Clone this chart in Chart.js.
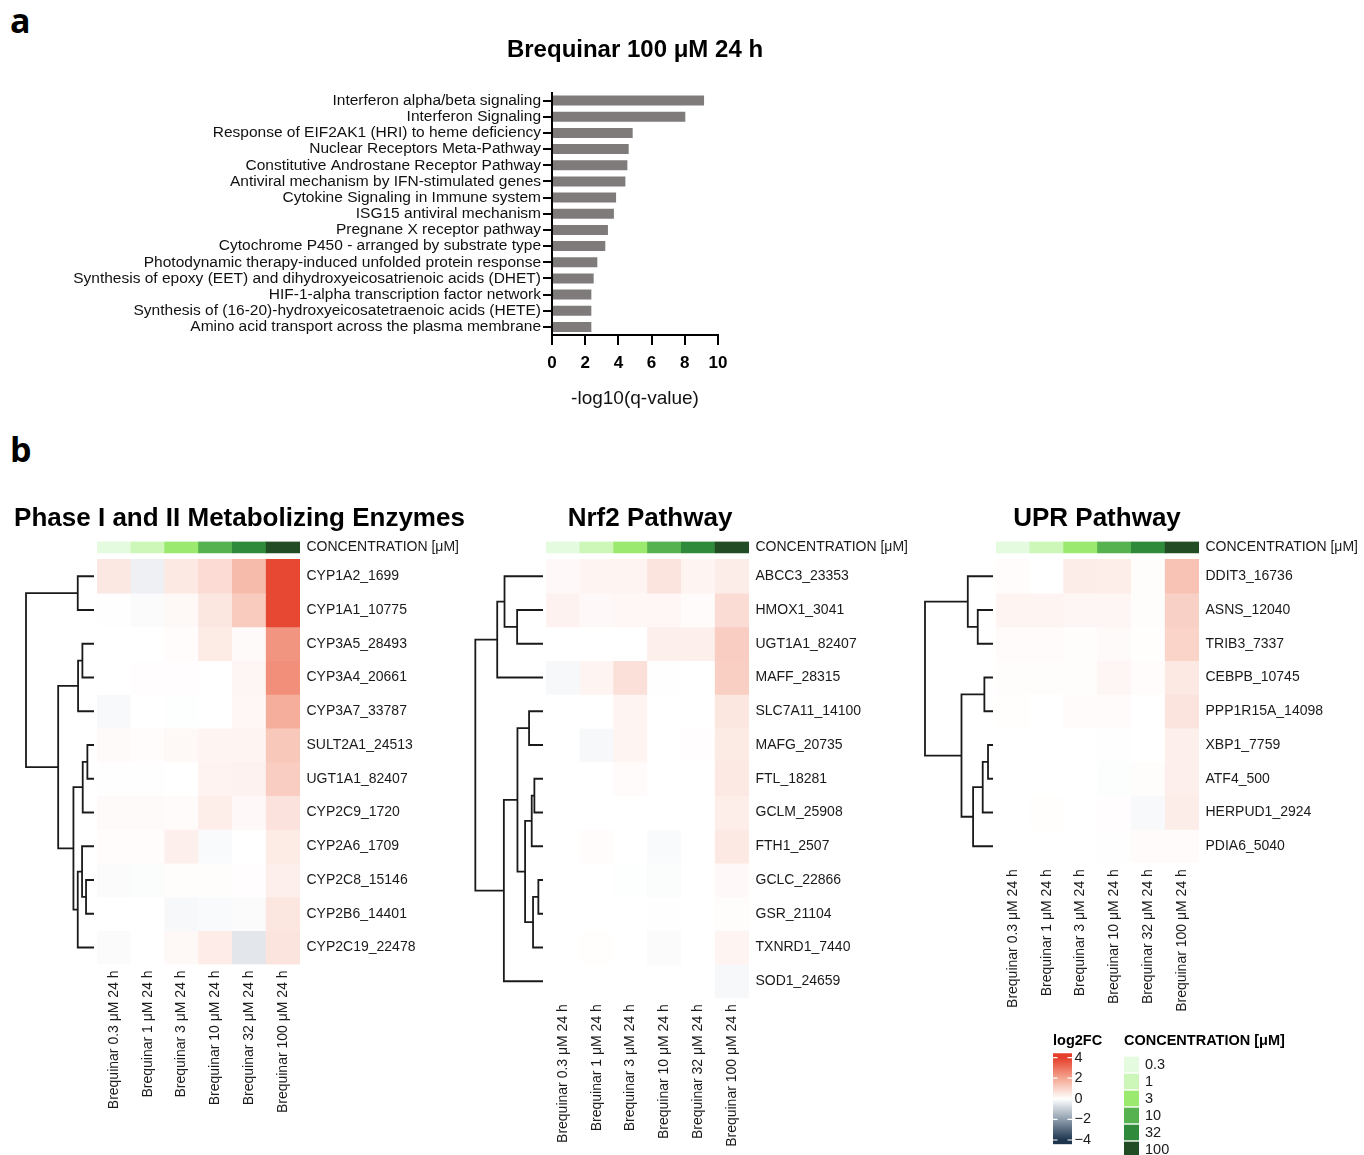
<!DOCTYPE html>
<html>
<head>
<meta charset="utf-8">
<script src="https://cdn.jsdelivr.net/npm/chart.js@4.4.1/dist/chart.umd.min.js"></script>
<style>
html,body{margin:0;padding:0;background:#fff;}
body{width:1364px;height:1155px;overflow:hidden;position:relative;}
.letter{position:absolute;font-family:"Open Sans",sans-serif;font-weight:bold;font-size:34px;line-height:34px;color:#000;}
canvas{position:absolute;display:block;}
</style>
</head>
<body>
<div class="letter" style="left:10px;top:3px">a</div>
<div class="letter" style="left:10px;top:432px">b</div>
<script>
// ---------------- DATA ----------------
// Panel a: enriched pathways
const pathwayLabels = [
  'Interferon alpha/beta signaling',
  'Interferon Signaling',
  'Response of EIF2AK1 (HRI) to heme deficiency',
  'Nuclear Receptors Meta-Pathway',
  'Constitutive Androstane Receptor Pathway',
  'Antiviral mechanism by IFN-stimulated genes',
  'Cytokine Signaling in Immune system',
  'ISG15 antiviral mechanism',
  'Pregnane X receptor pathway',
  'Cytochrome P450 - arranged by substrate type',
  'Photodynamic therapy-induced unfolded protein response',
  'Synthesis of epoxy (EET) and dihydroxyeicosatrienoic acids (DHET)',
  'HIF-1-alpha transcription factor network',
  'Synthesis of (16-20)-hydroxyeicosatetraenoic acids (HETE)',
  'Amino acid transport across the plasma membrane'
];
const pathwayScores = [9.16, 8.03, 4.86, 4.62, 4.54, 4.42, 3.86, 3.73, 3.37, 3.21, 2.73, 2.51, 2.37, 2.37, 2.37];
const scoreTicks = [0, 2, 4, 6, 8, 10];

// Panel b: samples / concentrations
const sampleLabels = ['Brequinar 0.3 μM 24 h', 'Brequinar 1 μM 24 h', 'Brequinar 3 μM 24 h',
                      'Brequinar 10 μM 24 h', 'Brequinar 32 μM 24 h', 'Brequinar 100 μM 24 h'];
const concLevels = ['0.3', '1', '3', '10', '32', '100'];
const concColors = ['#e5fbdf', '#ccf7b8', '#9ce96f', '#56b24f', '#308a3b', '#224c24'];

// log2FC colour key
const fcStops = [-4, -2, 0, 2, 4];
const fcColors = [[29, 53, 77], [143, 158, 174], [255, 255, 255], [244, 166, 146], [229, 62, 42]];
const fcLegendTicks = [4, 2, 0, -2, -4];

// Phase I and II metabolizing enzymes (log2FC, columns = concentrations)
const phaseGenes = ['CYP1A2_1699', 'CYP1A1_10775', 'CYP3A5_28493', 'CYP3A4_20661', 'CYP3A7_33787',
  'SULT2A1_24513', 'UGT1A1_82407', 'CYP2C9_1720', 'CYP2A6_1709', 'CYP2C8_15146', 'CYP2B6_14401', 'CYP2C19_22478'];
const phaseLog2FC = [
  [0.52, -0.30, 0.49, 0.80, 1.53, 3.80],
  [0.02, -0.08, 0.15, 0.56, 1.17, 3.80],
  [0.00, 0.00, 0.07, 0.45, 0.11, 2.35],
  [0.00, 0.04, 0.04, 0.00, 0.20, 2.45],
  [-0.12, 0.00, -0.03, 0.00, 0.18, 1.82],
  [0.11, 0.07, 0.16, 0.22, 0.25, 1.24],
  [0.02, 0.02, 0.00, 0.27, 0.29, 1.12],
  [0.11, 0.11, 0.09, 0.38, 0.13, 0.65],
  [0.07, 0.07, 0.36, -0.10, 0.00, 0.45],
  [-0.08, -0.07, 0.05, 0.05, 0.04, 0.34],
  [0.00, 0.00, -0.15, -0.10, -0.08, 0.56],
  [-0.08, 0.00, 0.16, 0.43, -0.50, 0.60]
];
// dendrogram merges [childA, childB, height]; ids >= n are earlier merges
const phaseTree = [
  [0, 1, 49], [2, 3, 35], [13, 4, 48], [5, 6, 20], [15, 7, 34], [9, 10, 24],
  [8, 17, 36], [18, 11, 49], [16, 19, 62], [14, 20, 108], [12, 21, 205]
];

// Nrf2 pathway
const nrf2Genes = ['ABCC3_23353', 'HMOX1_3041', 'UGT1A1_82407', 'MAFF_28315', 'SLC7A11_14100', 'MAFG_20735',
  'FTL_18281', 'GCLM_25908', 'FTH1_2507', 'GCLC_22866', 'GSR_21104', 'TXNRD1_7440', 'SOD1_24659'];
const nrf2Log2FC = [
  [0.13, 0.22, 0.22, 0.60, 0.22, 0.40],
  [0.29, 0.13, 0.18, 0.18, 0.09, 0.79],
  [0.00, 0.00, 0.00, 0.34, 0.34, 1.12],
  [-0.14, 0.25, 0.70, 0.02, 0.00, 1.08],
  [0.00, 0.00, 0.25, 0.00, 0.00, 0.56],
  [0.00, -0.15, 0.25, 0.00, 0.04, 0.47],
  [0.00, 0.00, 0.09, 0.00, 0.00, 0.49],
  [0.00, 0.00, 0.00, 0.00, 0.00, 0.38],
  [0.00, 0.07, 0.00, -0.10, 0.00, 0.49],
  [0.00, 0.00, -0.03, -0.07, 0.00, 0.13],
  [0.00, 0.00, 0.00, -0.02, 0.00, 0.05],
  [0.00, 0.03, 0.00, -0.08, 0.00, 0.25],
  [0.00, 0.00, 0.00, 0.00, 0.00, -0.14]
];
const nrf2Tree = [
  [1, 2, 78], [0, 13, 116], [14, 3, 138], [4, 5, 42], [6, 7, 26], [17, 8, 34],
  [9, 10, 14], [19, 11, 30], [18, 20, 54], [16, 21, 77], [22, 12, 118], [15, 23, 204]
];

// UPR pathway
const uprGenes = ['DDIT3_16736', 'ASNS_12040', 'TRIB3_7337', 'CEBPB_10745', 'PPP1R15A_14098',
  'XBP1_7759', 'ATF4_500', 'HERPUD1_2924', 'PDIA6_5040'];
const uprLog2FC = [
  [0.07, 0.00, 0.40, 0.38, 0.05, 1.35],
  [0.22, 0.22, 0.20, 0.20, 0.05, 1.05],
  [0.08, 0.08, 0.06, 0.11, 0.03, 0.99],
  [0.06, 0.05, 0.05, 0.20, 0.07, 0.49],
  [0.03, 0.00, 0.10, 0.10, 0.00, 0.60],
  [0.00, 0.00, 0.00, 0.02, 0.00, 0.34],
  [0.00, 0.00, 0.00, -0.05, 0.06, 0.34],
  [0.00, 0.03, 0.00, 0.04, -0.13, 0.40],
  [0.00, 0.00, 0.00, 0.02, 0.10, 0.10]
];
const uprTree = [
  [1, 2, 46], [0, 9, 76], [3, 4, 26], [5, 6, 15], [12, 7, 31], [13, 8, 60], [11, 14, 95], [10, 15, 205]
];

// ---------------- LAYOUT CONSTANTS ----------------
const ROW_H = 33.75;
const CONC_TOP = -0.53, CONC_BOTTOM = -0.195;
const HEAT_W = 203;
const HEAT_TOP = 480;
const TITLE_PAD_TOP = 23.4, TITLE_PAD_BOTTOM = 6.9, TITLE_SIZE = 26;
const DENDRO_MAX = 205;

Chart.defaults.font.family = '"Liberation Sans", Arial, Helvetica, sans-serif';
Chart.defaults.color = '#1a1a1a';
Chart.defaults.animation = false;
Chart.defaults.events = [];
Chart.defaults.plugins.legend.display = false;
Chart.defaults.plugins.tooltip.enabled = false;

function makeCanvas(left, top, w, h) {
  const c = document.createElement('canvas');
  c.width = w; c.height = h;
  c.style.left = left + 'px'; c.style.top = top + 'px';
  c.style.width = w + 'px'; c.style.height = h + 'px';
  document.body.appendChild(c);
  return c;
}

function rgb(a) { return 'rgb(' + a.map(v => Math.round(v)).join(',') + ')'; }
function fcColor(v) {
  const x = Math.max(fcStops[0], Math.min(fcStops[fcStops.length - 1], v));
  for (let i = 0; i < fcStops.length - 1; i++) {
    if (x <= fcStops[i + 1]) {
      const t = (x - fcStops[i]) / (fcStops[i + 1] - fcStops[i]);
      const a = fcColors[i], b = fcColors[i + 1];
      return rgb(a.map((c, k) => c + (b[k] - c) * t));
    }
  }
  return rgb(fcColors[fcColors.length - 1]);
}

// ---------------- PANEL A ----------------
// full-size title box spans 60..1210 so it is centred over the x axis (635)
new Chart(makeCanvas(0, 0, 1220, 420), {
  type: 'bar',
  data: {
    labels: pathwayLabels,
    datasets: [{ data: pathwayScores, backgroundColor: '#7f7b7b', barPercentage: 0.62, categoryPercentage: 1 }]
  },
  options: {
    responsive: false,
    indexAxis: 'y',
    layout: { padding: { left: 60, right: 10, top: 0, bottom: 10 } },
    plugins: {
      title: { display: true, text: 'Brequinar 100 μM 24 h',
        font: { size: 24, weight: 'bold' }, color: '#000', padding: { top: 35.6, bottom: 28.1 } }
    },
    scales: {
      y: {
        grid: { display: true, drawOnChartArea: false, drawTicks: true, tickLength: 9, offset: false, color: '#000', lineWidth: 2 },
        border: { display: true, color: '#000', width: 2 },
        ticks: { font: { size: 15.5 }, color: '#111', padding: 2, autoSkip: false },
        afterFit: s => { s.width = 492; }
      },
      yR: {
        type: 'linear', position: 'right', min: 0, max: 1,
        grid: { display: false, drawTicks: false }, border: { display: false },
        ticks: { display: false },
        afterFit: s => { s.width = 492; }
      },
      x: {
        min: 0, max: 10,
        afterBuildTicks: s => { s.ticks = scoreTicks.map(v => ({ value: v })); },
        grid: { drawOnChartArea: false, drawTicks: true, tickLength: 10, color: '#000', lineWidth: 2 },
        border: { display: true, color: '#000', width: 2 },
        ticks: { font: { size: 17, weight: 'bold' }, color: '#000', padding: 8 },
        title: { display: true, text: '-log10(q-value)', font: { size: 19 }, color: '#111', padding: 0 },
        afterFit: s => { s.height = 75; }
      }
    }
  }
});

// ---------------- PANEL B: HEATMAPS ----------------
function heatmapChart(g, genes, values, title) {
  const n = genes.length;
  const area = (n - CONC_TOP) * ROW_H;
  const titleH = TITLE_PAD_TOP + TITLE_SIZE * 1.2 + TITLE_PAD_BOTTOM;
  const xh = g.height - titleH - area;
  const b = g.width - g.a - HEAT_W;
  const datasets = [{
    label: 'CONCENTRATION [μM]',
    data: sampleLabels.map(() => [CONC_TOP, CONC_BOTTOM]),
    backgroundColor: concColors
  }];
  values.forEach((row, r) => datasets.push({
    label: genes[r],
    data: row.map(() => [r, r + 1]),
    backgroundColor: row.map(fcColor)
  }));
  datasets.forEach(d => Object.assign(d, { grouped: false, barPercentage: 1, categoryPercentage: 1, borderWidth: 0, yAxisID: 'y' }));
  new Chart(makeCanvas(g.left, HEAT_TOP, g.width, g.height), {
    type: 'bar',
    data: { labels: sampleLabels, datasets },
    options: {
      responsive: false,
      layout: { padding: 0 },
      plugins: {
        title: { display: true, text: title, font: { size: TITLE_SIZE, weight: 'bold' }, color: '#000',
          padding: { top: TITLE_PAD_TOP, bottom: TITLE_PAD_BOTTOM } }
      },
      scales: {
        x: {
          grid: { display: false, drawTicks: false }, border: { display: false },
          ticks: { autoSkip: false, minRotation: 90, maxRotation: 90, font: { size: 14 }, color: '#1a1a1a', padding: 6 },
          afterFit: s => { s.height = xh; }
        },
        y: {
          type: 'linear', position: 'right', reverse: true, min: CONC_TOP, max: n,
          grid: { display: false, drawTicks: false }, border: { display: false },
          afterBuildTicks: s => {
            s.ticks = [{ value: (CONC_TOP + CONC_BOTTOM) / 2 }].concat(genes.map((_, i) => ({ value: i + 0.5 })));
          },
          ticks: { autoSkip: false, font: { size: 14 }, color: '#1a1a1a', padding: 6.5,
            callback: (v, i) => i === 0 ? 'CONCENTRATION [μM]' : genes[i - 1] },
          afterFit: s => { s.width = b; }
        },
        yL: {
          type: 'linear', position: 'left', min: 0, max: 1,
          grid: { display: false, drawTicks: false }, border: { display: false },
          ticks: { display: false },
          afterFit: s => { s.width = g.a; }
        }
      }
    }
  });
}

function dendroChart(heatLeft, n, merges) {
  const nodes = [];
  for (let i = 0; i < n; i++) nodes.push({ h: 0, y: i + 0.5 });
  const datasets = merges.map(([a, b, h]) => {
    const A = nodes[a], B = nodes[b];
    nodes.push({ h: h, y: (A.y + B.y) / 2 });
    return {
      data: [{ x: A.h, y: A.y }, { x: h, y: A.y }, { x: h, y: B.y }, { x: B.h, y: B.y }],
      showLine: true, borderColor: '#1a1a1a', borderWidth: 1.8, pointRadius: 0, fill: false, clip: false, tension: 0
    };
  });
  const area = (n - CONC_TOP) * ROW_H;
  const top = HEAT_TOP + TITLE_PAD_TOP + TITLE_SIZE * 1.2 + TITLE_PAD_BOTTOM - 4.5;
  const H = Math.ceil(4.5 + area + 4);
  const leafX = heatLeft - 3;
  new Chart(makeCanvas(leafX - 72, top, 76, H), {
    type: 'scatter',
    data: { datasets },
    options: {
      responsive: false,
      layout: { padding: { left: 4, right: 4, top: 4.5, bottom: H - 4.5 - area } },
      scales: {
        x: { type: 'linear', display: false, reverse: true, min: 0, max: DENDRO_MAX },
        y: { type: 'linear', display: false, reverse: true, min: CONC_TOP, max: n }
      }
    }
  });
}

heatmapChart({ left: 0, width: 479, a: 97, height: 660 }, phaseGenes, phaseLog2FC, 'Phase I and II Metabolizing Enzymes');
heatmapChart({ left: 385, width: 530, a: 161, height: 675 }, nrf2Genes, nrf2Log2FC, 'Nrf2 Pathway');
heatmapChart({ left: 830, width: 534, a: 166, height: 560 }, uprGenes, uprLog2FC, 'UPR Pathway');
dendroChart(97, phaseGenes.length, phaseTree);
dendroChart(546, nrf2Genes.length, nrf2Tree);
dendroChart(996, uprGenes.length, uprTree);

// ---------------- LEGENDS ----------------
const fcDashes = {
  id: 'fcDashes',
  afterDatasetsDraw(chart) {
    const { ctx, chartArea: a, scales: { y } } = chart;
    ctx.save();
    ctx.strokeStyle = '#fff';
    ctx.lineWidth = 1.2;
    y.ticks.forEach(t => {
      const py = y.getPixelForValue(t.value);
      ctx.beginPath();
      ctx.moveTo(a.left, py); ctx.lineTo(a.left + 4.5, py);
      ctx.moveTo(a.right - 4.5, py); ctx.lineTo(a.right, py);
      ctx.stroke();
    });
    ctx.restore();
  }
};

new Chart(makeCanvas(1045, 1020, 67, 137), {
  type: 'bar',
  data: {
    labels: ['log2FC'],
    datasets: [{
      data: [[-4.42, 4.42]],
      barPercentage: 1, categoryPercentage: 1, borderWidth: 0,
      backgroundColor: (c) => {
        const chart = c.chart;
        if (!chart.chartArea) return '#fff';
        const y = chart.scales.y;
        const grad = chart.ctx.createLinearGradient(0, y.getPixelForValue(fcStops[0]), 0, y.getPixelForValue(fcStops[fcStops.length - 1]));
        fcStops.forEach((s, i) => grad.addColorStop(i / (fcStops.length - 1), rgb(fcColors[i])));
        return grad;
      }
    }]
  },
  options: {
    responsive: false,
    layout: { padding: { left: 8, right: 0, top: 0, bottom: 12.7 } },
    plugins: {
      title: { display: true, text: 'log2FC', align: 'start', font: { size: 14.5, weight: 'bold' }, color: '#000',
        padding: { top: 12.3, bottom: 3.6 } }
    },
    scales: {
      x: { display: false },
      y: {
        type: 'linear', position: 'right', min: -4.42, max: 4.42,
        grid: { display: false, drawTicks: false }, border: { display: false },
        afterBuildTicks: s => { s.ticks = fcLegendTicks.map(v => ({ value: v })); },
        ticks: { font: { size: 14.5 }, color: '#1a1a1a', padding: 2.5,
          callback: v => v < 0 ? '\u2212' + Math.abs(v) : String(v) },
        afterFit: s => { s.width = 40; }
      }
    }
  },
  plugins: [fcDashes]
});

new Chart(makeCanvas(1116, 1020, 180, 156), {
  type: 'bar',
  data: {
    labels: ['CONCENTRATION'],
    datasets: concLevels.map((c, i) => ({
      label: c, data: [[i + 0.06, i + 0.94]], backgroundColor: concColors[i],
      grouped: false, barPercentage: 1, categoryPercentage: 1, borderWidth: 0
    }))
  },
  options: {
    responsive: false,
    layout: { padding: { left: 8, right: 0, top: 0, bottom: 18 } },
    plugins: {
      title: { display: true, text: 'CONCENTRATION [μM]', align: 'start', font: { size: 14.5, weight: 'bold' }, color: '#000',
        padding: { top: 12.3, bottom: 6.3 } }
    },
    scales: {
      x: { display: false },
      y: {
        type: 'linear', position: 'right', reverse: true, min: 0, max: concLevels.length,
        grid: { display: false, drawTicks: false }, border: { display: false },
        afterBuildTicks: s => { s.ticks = concLevels.map((_, i) => ({ value: i + 0.5 })); },
        ticks: { autoSkip: false, font: { size: 14.5 }, color: '#1a1a1a', padding: 6,
          callback: (v, i) => concLevels[i] },
        afterFit: s => { s.width = 157; }
      }
    }
  }
});
</script>
</body>
</html>
